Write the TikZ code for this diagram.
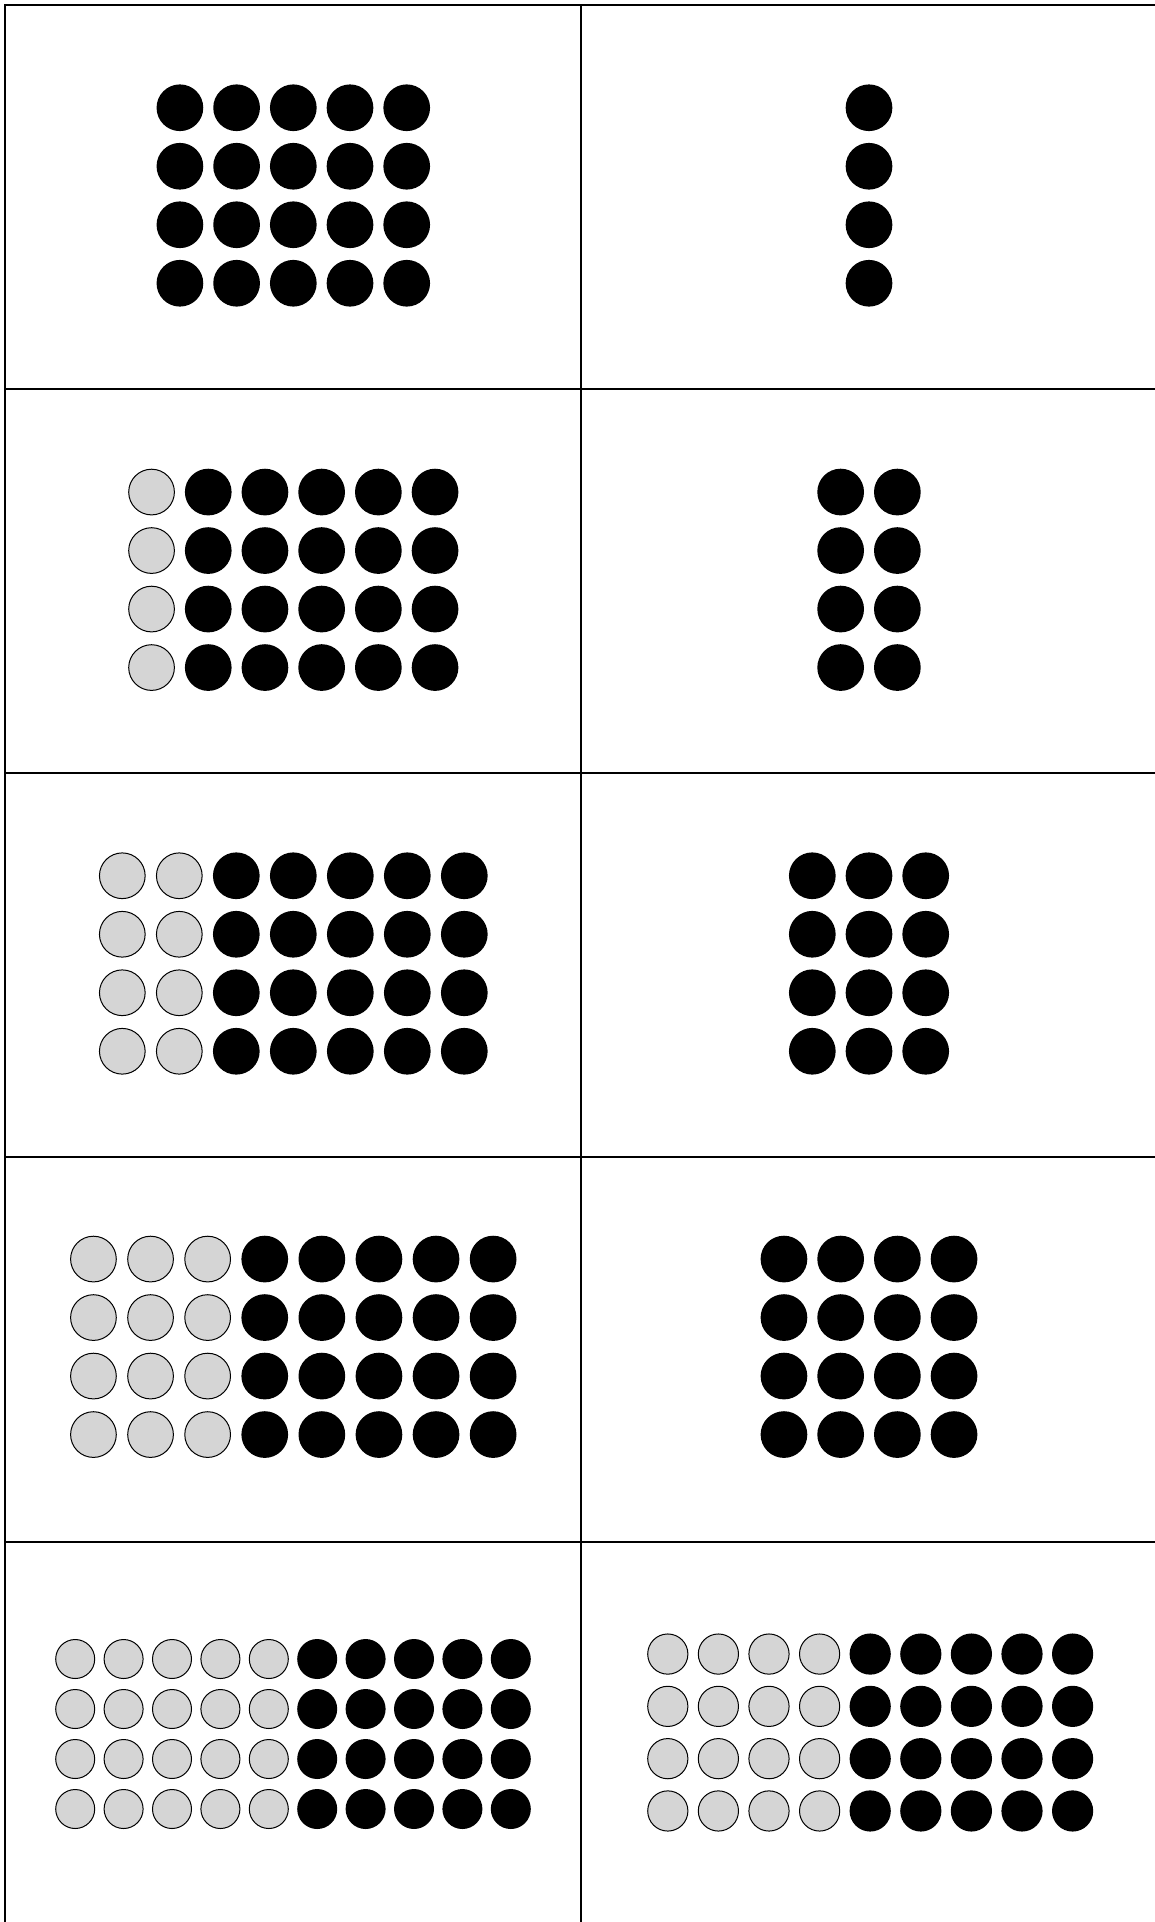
\documentclass[tikz,border=0pt]{standalone}
\definecolor{dotgray}{HTML}{D5D5D5}
\newcommand\dotpanel[8]{%
  \foreach \c in {1,...,#4}{%
    \foreach \r in {1,...,4}{%
      \pgfmathsetmacro\xx{#2+(\c-(#4+1)/2)*#6}%
      \pgfmathsetmacro\yy{#3+(\r-2.5)*#7}%
      \ifnum\c>#5\relax
        \node[blackdot=#8] (#1-\r-\c) at (\xx,\yy) {};%
      \else
        \node[graydot=#8] (#1-\r-\c) at (\xx,\yy) {};%
      \fi
    }%
  }%
}
\begin{document}
\begin{tikzpicture}[x=0.5pt,y=-0.5pt,
  gridline/.style={line width=1.15pt, draw=black},
  blackdot/.style={circle, fill=black, inner sep=0pt, minimum size=#1},
  graydot/.style={circle, fill=dotgray, draw=black, line width=0.5pt, inner sep=0pt, minimum size=#1-0.5pt},
]
\useasboundingbox (0,0) rectangle (1155,1922);
\fill[white] (0,0) rectangle (1155,1922);

% table lines
\draw[gridline] (5,1922) -- (5,5) -- (1155,5);
\draw[gridline] (581.3,5) -- (581.3,1922);
\foreach \yl in {389.3,773,1157.3,1541.7}
  \draw[gridline] (5,\yl) -- (1155,\yl);

% row 1
\dotpanel{aL}{293.3}{195.5}{5}{0}{56.7}{58.5}{23.35pt}
\dotpanel{aR}{869}{195.5}{1}{0}{56.7}{58.5}{23.35pt}
% row 2
\dotpanel{bL}{293.3}{579.8}{6}{1}{56.7}{58.5}{23.35pt}
\dotpanel{bR}{869}{579.8}{2}{0}{56.7}{58.5}{23.35pt}
% row 3
\dotpanel{cL}{293.3}{963.5}{7}{2}{57}{58.5}{23.35pt}
\dotpanel{cR}{869}{963.5}{3}{0}{56.7}{58.5}{23.35pt}
% row 4
\dotpanel{dL}{293.3}{1346.8}{8}{3}{57.1}{58.5}{23.35pt}
\dotpanel{dR}{869}{1346.8}{4}{0}{56.7}{58.5}{23.35pt}
% row 5
\dotpanel{eL}{293}{1734}{10}{5}{48.4}{50}{20pt}
\dotpanel{eR}{870.2}{1732.5}{9}{4}{50.6}{52.3}{20.6pt}
\end{tikzpicture}
\end{document}
